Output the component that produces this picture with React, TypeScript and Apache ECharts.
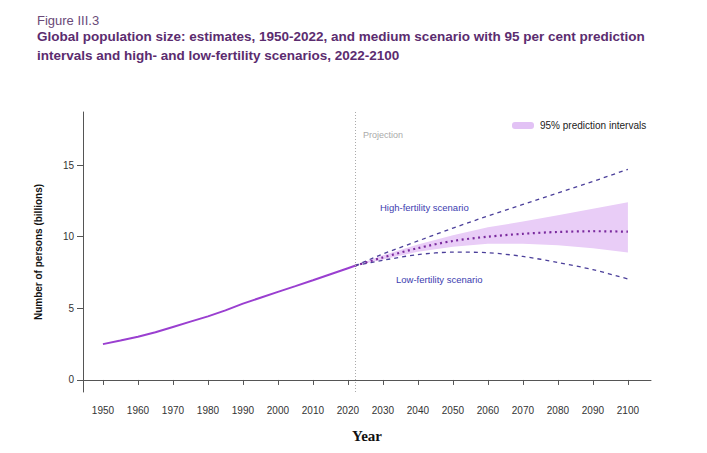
import React, { useEffect, useRef } from "react";
import * as echarts from "echarts";

const estYears = [1950, 1955, 1960, 1965, 1970, 1975, 1980, 1985, 1990, 1995, 2000, 2005, 2010, 2015, 2020, 2022];
const estValues = [2.5, 2.75, 3.02, 3.33, 3.7, 4.07, 4.44, 4.86, 5.33, 5.74, 6.15, 6.55, 6.96, 7.38, 7.8, 7.97];

const projYears = [2022, 2030, 2040, 2050, 2060, 2070, 2080, 2090, 2100];
const mediumValues = [7.97, 8.55, 9.2, 9.7, 10.0, 10.2, 10.33, 10.38, 10.35];
const highValues = [7.97, 8.8, 9.7, 10.6, 11.45, 12.25, 13.05, 13.85, 14.7];
const lowValues = [7.97, 8.35, 8.75, 8.92, 8.88, 8.62, 8.2, 7.7, 7.05];
const piLower = [7.97, 8.4, 8.95, 9.3, 9.5, 9.5, 9.4, 9.2, 8.9];
const piUpper = [7.97, 8.7, 9.45, 10.1, 10.65, 11.05, 11.5, 11.95, 12.4];

const xTicks = [1950, 1960, 1970, 1980, 1990, 2000, 2010, 2020, 2030, 2040, 2050, 2060, 2070, 2080, 2090, 2100];
const yTicks = [0, 5, 10, 15];
const projectionYear = 2022;

export default function App() {
  const ref = useRef<HTMLDivElement>(null);
  useEffect(() => {
    if (!ref.current) return;
    const chart = echarts.init(ref.current, undefined, { renderer: "svg" });
    const pair = (xs: number[], ys: number[]) => xs.map((x, i) => [x, ys[i]]);
    const bandData = projYears.map((x, i) => [x, piLower[i], piUpper[i]]);
    chart.setOption({
      animation: false,
      backgroundColor: "#ffffff",
      textStyle: { fontFamily: "Liberation Sans, Arial, sans-serif" },
      title: [
        {
          text: "Figure III.3",
          left: 32,
          top: 9,
          textStyle: { fontSize: 13, fontWeight: "normal", color: "#6a4a78", fontFamily: "Liberation Sans, Arial, sans-serif" },
        },
        {
          text: "Global population size: estimates, 1950-2022, and medium scenario with 95 per cent prediction\nintervals and high- and low-fertility scenarios, 2022-2100",
          left: 32,
          top: 22,
          textStyle: { fontSize: 13.5, fontWeight: "bold", color: "#5b2c6f", lineHeight: 19, fontFamily: "Liberation Sans, Arial, sans-serif" },
        },
      ],
      grid: { left: 83, right: 56, top: 112, bottom: 61, containLabel: false },
      xAxis: {
        type: "value",
        min: 1944.3,
        max: 2106.6,
        name: "Year",
        nameLocation: "middle",
        nameGap: 36,
        nameTextStyle: { fontFamily: "Liberation Serif, Times New Roman, serif", fontWeight: "bold", fontSize: 15, color: "#111" },
        axisLine: { lineStyle: { color: "#555", width: 1 } },
        axisTick: { show: true, customValues: xTicks, length: 5, lineStyle: { color: "#555" } },
        axisLabel: { customValues: xTicks, color: "#333", fontSize: 10, margin: 13, formatter: (v: number) => String(v) },
        splitLine: { show: false },
      },
      yAxis: {
        type: "value",
        min: -0.84,
        max: 18.7,
        name: "Number of persons (billions)",
        nameLocation: "middle",
        nameGap: 40,
        nameRotate: 90,
        nameTextStyle: { fontWeight: "bold", fontSize: 10, color: "#111" },
        axisLine: { show: true, lineStyle: { color: "#555", width: 1 } },
        axisTick: { show: true, customValues: yTicks, length: 6, lineStyle: { color: "#555" } },
        axisLabel: { customValues: yTicks, color: "#333", fontSize: 10, margin: 9 },
        splitLine: { show: false },
      },
      series: [
        {
          type: "custom",
          name: "95% prediction intervals",
          data: bandData,
          silent: true,
          z: 1,
          renderItem: (params: any, api: any) => {
            if (params.dataIndex !== 0) return null;
            const upper = bandData.map((d) => api.coord([d[0], d[2]]));
            const lower = bandData.map((d) => api.coord([d[0], d[1]])).reverse();
            return {
              type: "polygon",
              shape: { points: upper.concat(lower) },
              style: { fill: "#e9cdf7" },
            };
          },
        },
        {
          type: "line",
          name: "Estimates",
          data: pair(estYears, estValues),
          symbol: "none",
          z: 3,
          lineStyle: { color: "#9a3fd0", width: 2 },
          markLine: {
            silent: true,
            symbol: "none",
            label: { show: false },
            lineStyle: { color: "#aaaaaa", type: [1, 2], width: 1 },
            data: [{ xAxis: projectionYear }],
          },
        },
        {
          type: "line",
          name: "High",
          data: pair(projYears, highValues),
          symbol: "none",
          z: 3,
          lineStyle: { color: "#4b3f9a", width: 1.3, type: [4, 4] },
        },
        {
          type: "line",
          name: "Low",
          data: pair(projYears, lowValues),
          symbol: "none",
          smooth: 0.3,
          z: 3,
          lineStyle: { color: "#4b3f9a", width: 1.3, type: [4, 4] },
        },
        {
          type: "line",
          name: "Medium",
          data: pair(projYears, mediumValues),
          symbol: "none",
          smooth: 0.3,
          z: 4,
          lineStyle: { color: "#7a2a9e", width: 2.2, type: [2, 3.5] },
        },
      ],
      graphic: [
        { type: "text", left: 363, top: 130, style: { text: "Projection", fill: "#aaaaaa", fontSize: 9, fontFamily: "Liberation Sans, Arial, sans-serif" } },
        { type: "rect", shape: { x: 512, y: 122, width: 22, height: 7, r: 3 }, style: { fill: "#e2c2f5" } },
        { type: "text", left: 540, top: 120, style: { text: "95% prediction intervals", fill: "#222", fontSize: 10, fontFamily: "Liberation Sans, Arial, sans-serif" } },
        { type: "text", left: 380, top: 202, style: { text: "High-fertility scenario", fill: "#3c3cb0", fontSize: 9.5, fontFamily: "Liberation Sans, Arial, sans-serif" } },
        { type: "text", left: 396, top: 274, style: { text: "Low-fertility scenario", fill: "#3c3cb0", fontSize: 9.5, fontFamily: "Liberation Sans, Arial, sans-serif" } },
      ],
    });
    return () => chart.dispose();
  }, []);
  return <div ref={ref} style={{ width: 707, height: 453, position: "absolute", left: 0, top: 0 }} />;
}
